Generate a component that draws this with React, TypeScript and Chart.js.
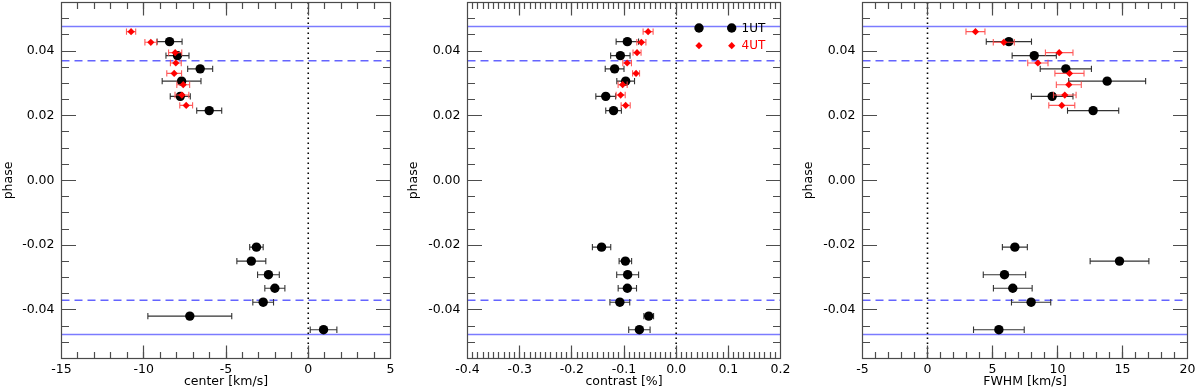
import React, { useEffect, useRef } from "react";
import { Chart, registerables } from "chart.js";
Chart.register(...registerables);

// ---------- data ----------
const phase1UT = [0.0429, 0.0386, 0.0345, 0.0307, 0.026, 0.0216, -0.0206, -0.0249, -0.0291, -0.0333, -0.0376, -0.0419, -0.0461];
const phase4UT = [0.046, 0.0427, 0.0395, 0.0363, 0.0331, 0.0296, 0.0264, 0.0232];

const center1UT = [-8.43, -7.95, -6.57, -7.7, -7.78, -6.02, -3.15, -3.46, -2.42, -2.03, -2.74, -7.2, 0.93];
const center1UTErr = [0.76, 0.7, 0.76, 1.18, 0.61, 0.76, 0.41, 0.88, 0.66, 0.61, 0.63, 2.55, 0.81];
const center4UT = [-10.77, -9.57, -8.09, -8.05, -8.15, -7.6, -7.68, -7.42];
const center4UTErr = [0.28, 0.36, 0.4, 0.33, 0.45, 0.39, 0.42, 0.39];

const contrast1UT = [-0.0936, -0.107, -0.118, -0.0968, -0.135, -0.12, -0.143, -0.0974, -0.093, -0.0936, -0.108, -0.0526, -0.0705];
const contrast1UTErr = [0.0215, 0.0186, 0.018, 0.017, 0.019, 0.015, 0.0176, 0.012, 0.021, 0.0176, 0.019, 0.0093, 0.0205];
const contrast4UT = [-0.0538, -0.0667, -0.075, -0.094, -0.0769, -0.1026, -0.1064, -0.0968];
const contrast4UTErr = [0.0096, 0.0087, 0.0077, 0.0083, 0.0067, 0.0087, 0.0087, 0.0087];

const fwhm1UT = [6.26, 8.21, 10.64, 13.82, 9.59, 12.74, 6.72, 14.77, 5.92, 6.56, 7.97, null, 5.49];
const fwhm1UTErr = [1.74, 1.7, 1.97, 2.96, 1.6, 1.97, 0.96, 2.26, 1.63, 1.49, 1.51, null, 1.95];
const fwhm4UT = [3.69, 5.87, 10.13, 8.49, 10.92, 10.87, 10.56, 10.33];
const fwhm4UTErr = [0.73, 0.81, 1.06, 0.78, 1.12, 0.96, 0.87, 1.0];

const phaseTicks = [-0.04, -0.02, 0.0, 0.02, 0.04];
const centerTicks = [-15, -10, -5, 0, 5];
const contrastTicks = [-0.4, -0.3, -0.2, -0.1, 0.0, 0.1, 0.2];
const fwhmTicks = [-5, 0, 5, 10, 15, 20];

const solidPhases = [0.0476, -0.0476];
const dashedPhases = [0.037, -0.037];
const legendLabels = ["1UT", "4UT"];

const FONT = "'DejaVu Sans', sans-serif";

function toPoints(xs: (number | null)[], ys: number[]) {
  const out: { x: number; y: number }[] = [];
  xs.forEach((x, i) => {
    if (x !== null) out.push({ x, y: ys[i] });
  });
  return out;
}
function toErr(xs: (number | null)[], es: (number | null)[]) {
  const out: number[] = [];
  xs.forEach((x, i) => {
    if (x !== null) out.push(es[i] as number);
  });
  return out;
}

function makePlugin(xMajor: number, xMinor: number, showLegend: boolean) {
  return {
    id: "panelDeco",
    beforeDatasetsDraw(chart: any) {
      const { ctx, chartArea: a, scales } = chart;
      const xs = scales.x;
      const ys = scales.y;
      ctx.save();
      ctx.beginPath();
      ctx.rect(a.left, a.top, a.right - a.left, a.bottom - a.top);
      ctx.clip();
      ctx.strokeStyle = "#7b7bff";
      ctx.lineWidth = 1.5;
      ctx.setLineDash([]);
      solidPhases.forEach((v) => {
        const y = ys.getPixelForValue(v);
        ctx.beginPath();
        ctx.moveTo(a.left, y);
        ctx.lineTo(a.right, y);
        ctx.stroke();
      });
      ctx.strokeStyle = "#6464ff";
      ctx.setLineDash([8, 5]);
      dashedPhases.forEach((v) => {
        const y = ys.getPixelForValue(v);
        ctx.beginPath();
        ctx.moveTo(a.left, y);
        ctx.lineTo(a.right, y);
        ctx.stroke();
      });
      ctx.strokeStyle = "#000";
      ctx.lineWidth = 1.6;
      ctx.setLineDash([1.6, 3.4]);
      const x0 = xs.getPixelForValue(0);
      ctx.beginPath();
      ctx.moveTo(x0, a.top);
      ctx.lineTo(x0, a.bottom);
      ctx.stroke();
      ctx.restore();
    },
    beforeDatasetDraw(chart: any, args: any) {
      const { ctx } = chart;
      const ds = chart.data.datasets[args.index];
      const errs: number[] = ds.xErr || [];
      const xs = chart.scales.x;
      ctx.save();
      ctx.strokeStyle = ds.errColor;
      ctx.lineWidth = 1.1;
      ctx.setLineDash([]);
      ds.data.forEach((p: any, i: number) => {
        const e = errs[i];
        if (e == null) return;
        const y = chart.scales.y.getPixelForValue(p.y);
        const xl = xs.getPixelForValue(p.x - e);
        const xr = xs.getPixelForValue(p.x + e);
        ctx.beginPath();
        ctx.moveTo(xl, y);
        ctx.lineTo(xr, y);
        ctx.moveTo(xl, y - 3.2);
        ctx.lineTo(xl, y + 3.2);
        ctx.moveTo(xr, y - 3.2);
        ctx.lineTo(xr, y + 3.2);
        ctx.stroke();
      });
      ctx.restore();
    },
    afterDatasetsDraw(chart: any) {
      const { ctx, chartArea: a, scales } = chart;
      const xs = scales.x;
      const ys = scales.y;
      ctx.save();
      ctx.setLineDash([]);
      ctx.strokeStyle = "#4d4d4d";
      ctx.lineWidth = 1.2;
      const xMinV = xs.min;
      const xMaxV = xs.max;
      const drawX = (step: number, len: number) => {
        const i0 = Math.ceil(xMinV / step - 1e-6);
        const i1 = Math.floor(xMaxV / step + 1e-6);
        for (let i = i0; i <= i1; i++) {
          const px = Math.round(xs.getPixelForValue(i * step) - 0.5) + 0.5;
          if (px - a.left < 1 || a.right - px < 1) continue;
          ctx.beginPath();
          ctx.moveTo(px, a.bottom);
          ctx.lineTo(px, a.bottom - len);
          ctx.stroke();
          ctx.beginPath();
          ctx.moveTo(px, a.top);
          ctx.lineTo(px, a.top + len);
          ctx.stroke();
        }
      };
      const drawY = (step: number, len: number) => {
        const i0 = Math.ceil(ys.min / step - 1e-6);
        const i1 = Math.floor(ys.max / step + 1e-6);
        for (let i = i0; i <= i1; i++) {
          const py = Math.round(ys.getPixelForValue(i * step) - 0.5) + 0.5;
          if (py - a.top < 1 || a.bottom - py < 1) continue;
          ctx.beginPath();
          ctx.moveTo(a.left, py);
          ctx.lineTo(a.left + len, py);
          ctx.moveTo(a.right, py);
          ctx.lineTo(a.right - len, py);
          ctx.stroke();
        }
      };
      drawX(xMinor, 6.5);
      drawX(xMajor, 13);
      drawY(0.005, 7.5);
      drawY(0.02, 14.5);
      ctx.strokeStyle = "#4a4a4a";
      ctx.lineWidth = 1.2;
      ctx.strokeRect(a.left, a.top, a.right - a.left, a.bottom - a.top);
      ctx.restore();
    },
    afterDraw(chart: any) {
      if (!showLegend) return;
      const { ctx, chartArea: a } = chart;
      ctx.save();
      const rows = [
        { label: legendLabels[0], color: "#000", y: a.top + 25.5, kind: "circle" },
        { label: legendLabels[1], color: "#ff0000", y: a.top + 43.2, kind: "diamond" },
      ];
      rows.forEach((r) => {
        ctx.fillStyle = r.color;
        [a.right - 81.5, a.right - 48.8].forEach((mx) => {
          ctx.beginPath();
          if (r.kind === "circle") {
            ctx.arc(mx, r.y, 4.7, 0, Math.PI * 2);
          } else {
            ctx.moveTo(mx, r.y - 3.6);
            ctx.lineTo(mx + 3.6, r.y);
            ctx.lineTo(mx, r.y + 3.6);
            ctx.lineTo(mx - 3.6, r.y);
            ctx.closePath();
          }
          ctx.fill();
        });
        ctx.font = `12px ${FONT}`;
        ctx.textBaseline = "middle";
        ctx.textAlign = "left";
        ctx.fillText(r.label, a.right - 39, r.y + 0.5);
      });
      ctx.restore();
    },
  };
}

type PanelProps = {
  left: number;
  xMin: number;
  xMax: number;
  xTicks: number[];
  xMajor: number;
  xMinor: number;
  decimals: number;
  xTitle: string;
  black: { x: number; y: number }[];
  blackErr: number[];
  red: { x: number; y: number }[];
  redErr: number[];
  yAxisWidth: number;
  padRight: number;
  yTitlePad: number;
  legend: boolean;
};

function Panel(p: PanelProps) {
  const ref = useRef<HTMLCanvasElement | null>(null);
  useEffect(() => {
    if (!ref.current) return;
    const tickFont = { family: FONT, size: 12.5 };
    const chart = new Chart(ref.current, {
      type: "scatter",
      data: {
        datasets: [
          {
            label: "4UT",
            data: p.red,
            xErr: p.redErr,
            errColor: "rgba(255,70,70,0.9)",
            pointStyle: "rectRot",
            pointRadius: 3.6,
            backgroundColor: "#ff0000",
            borderColor: "#ff0000",
            borderWidth: 0,
          } as any,
          {
            label: "1UT",
            data: p.black,
            xErr: p.blackErr,
            errColor: "#333",
            pointStyle: "circle",
            pointRadius: 4.7,
            backgroundColor: "#000",
            borderColor: "#000",
            borderWidth: 0,
          } as any,
        ],
      },
      options: {
        animation: false,
        responsive: false,
        devicePixelRatio: 1,
        layout: { autoPadding: false, padding: { top: 2.5, right: p.padRight, bottom: 0, left: 0 } },
        plugins: {
          legend: { display: false },
          tooltip: { enabled: false },
        },
        scales: {
          x: {
            type: "linear",
            min: p.xMin,
            max: p.xMax,
            grid: { display: false, drawTicks: false },
            border: { display: false },
            ticks: {
              font: tickFont,
              color: "#000",
              padding: 3.5,
              maxRotation: 0,
              autoSkip: false,
              callback: (v: any) => Number(v).toFixed(p.decimals),
            },
            afterBuildTicks: (s: any) => {
              s.ticks = p.xTicks.map((v) => ({ value: v }));
            },
            afterFit: (s: any) => {
              s.height = 33.5;
              s.paddingLeft = 0;
              s.paddingRight = 0;
              s.paddingTop = 0;
              s.paddingBottom = 0;
            },
            title: {
              display: true,
              text: p.xTitle,
              color: "#000",
              font: tickFont,
              padding: { top: 0, bottom: 2.8 },
            },
          },
          y: {
            type: "linear",
            min: -0.055,
            max: 0.055,
            grid: { display: false, drawTicks: false },
            border: { display: false },
            ticks: {
              font: tickFont,
              color: "#000",
              padding: 7,
              autoSkip: false,
              callback: (v: any) => Number(v).toFixed(2),
            },
            afterBuildTicks: (s: any) => {
              s.ticks = phaseTicks.map((v) => ({ value: v }));
            },
            afterFit: (s: any) => {
              s.width = p.yAxisWidth;
              s.paddingLeft = 0;
              s.paddingRight = 0;
              s.paddingTop = 0;
              s.paddingBottom = 0;
            },
            title: {
              display: true,
              text: "phase",
              color: "#000",
              font: tickFont,
              padding: { top: p.yTitlePad, bottom: 0 },
            },
          },
        },
      } as any,
      plugins: [makePlugin(p.xMajor, p.xMinor, p.legend) as any],
    });
    return () => chart.destroy();
  }, []);
  return (
    <div style={{ position: "absolute", left: p.left, top: 0, width: 400, height: 392 }}>
      <canvas ref={ref} width={400} height={392} style={{ width: 400, height: 392, display: "block" }} />
    </div>
  );
}

export default function App() {
  useEffect(() => {
    document.body.style.margin = "0";
    document.body.style.background = "#fff";
  }, []);
  return (
    <div style={{ position: "relative", width: 1200, height: 392, overflow: "hidden", background: "#fff" }}>
      <Panel
        left={0}
        xMin={-15}
        xMax={5}
        xTicks={centerTicks}
        xMajor={5}
        xMinor={1}
        decimals={0}
        xTitle="center [km/s]"
        black={toPoints(center1UT, phase1UT)}
        blackErr={toErr(center1UT, center1UTErr)}
        red={toPoints(center4UT, phase4UT)}
        redErr={toErr(center4UT, center4UTErr)}
        yAxisWidth={61.5}
        padRight={9.5}
        yTitlePad={0.8}
        legend={false}
      />
      <Panel
        left={400}
        xMin={-0.4}
        xMax={0.2}
        xTicks={contrastTicks}
        xMajor={0.1}
        xMinor={0.01}
        decimals={1}
        xTitle="contrast [%]"
        black={toPoints(contrast1UT, phase1UT)}
        blackErr={toErr(contrast1UT, contrast1UTErr)}
        red={toPoints(contrast4UT, phase4UT)}
        redErr={toErr(contrast4UT, contrast4UTErr)}
        yAxisWidth={67.5}
        padRight={19.5}
        yTitlePad={6}
        legend={true}
      />
      <Panel
        left={800}
        xMin={-5}
        xMax={20}
        xTicks={fwhmTicks}
        xMajor={5}
        xMinor={1}
        decimals={0}
        xTitle="FWHM [km/s]"
        black={toPoints(fwhm1UT, phase1UT)}
        blackErr={toErr(fwhm1UT, fwhm1UTErr)}
        red={toPoints(fwhm4UT, phase4UT)}
        redErr={toErr(fwhm4UT, fwhm4UTErr)}
        yAxisWidth={62.5}
        padRight={12.5}
        yTitlePad={1.5}
        legend={false}
      />
    </div>
  );
}
